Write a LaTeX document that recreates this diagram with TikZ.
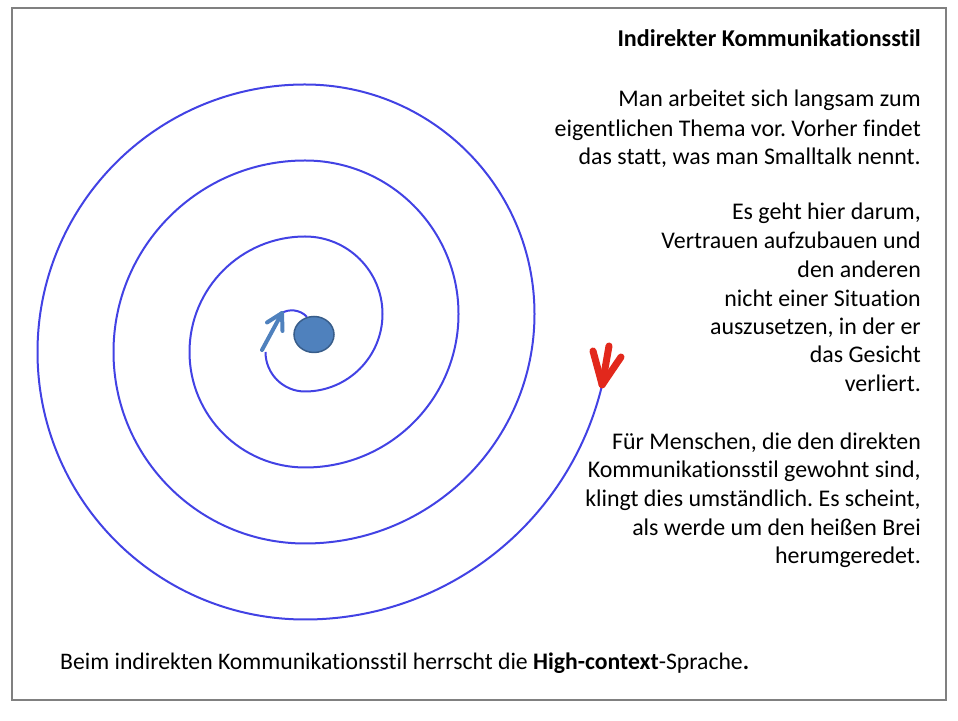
\documentclass[tikz,border=0pt]{standalone}
\usepackage{fontspec}
\setmainfont{Carlito}[Ligatures=NoCommon]
\usetikzlibrary{shapes.geometric}
\definecolor{spiralblue}{RGB}{66,66,228}
\definecolor{dotfill}{HTML}{4F81BD}
\definecolor{dotline}{HTML}{385D8A}
\definecolor{fletchred}{RGB}{226,40,28}
\definecolor{framegray}{HTML}{808080}
\begin{document}
\frenchspacing
\begin{tikzpicture}[x=1pt,y=1pt,
  spiralline/.style={draw=spiralblue, line width=2pt},
  innerarrow/.style={draw=dotfill, line width=4pt, line cap=round, line join=round},
  fletchline/.style={draw=fletchred, line width=7pt, line cap=round},
  framebox/.style={draw=framegray, line width=2.5pt},
  body/.style={anchor=base east, inner sep=0pt, font=\fontsize{23.9}{28}\selectfont},
  titletext/.style={anchor=base east, inner sep=0pt, font=\fontsize{24.1}{28}\selectfont\bfseries},
  foottext/.style={anchor=base west, inner sep=0pt, font=\fontsize{23.7}{28}\selectfont},
  bluedot/.style={ellipse, fill=dotfill, draw=dotline, line width=1.5pt, minimum width=40pt, minimum height=36pt, inner sep=0pt}]
\useasboundingbox (0,0) rectangle (958,720);
\draw[framebox] (12,712) rectangle (946,20);

% spiral
\draw[spiralline] (265.5,368)
  arc[start angle=180,end angle=270,radius=39.5]
  arc[start angle=-90,end angle=90,radius=77.5]
  arc[start angle=90,end angle=270,radius=115.5]
  arc[start angle=-90,end angle=90,radius=153.5]
  arc[start angle=90,end angle=270,radius=191.5]
  arc[start angle=-90,end angle=90,radius=229.5]
  arc[start angle=90,end angle=270,radius=267.5]
  arc[start angle=-90,end angle=-13.4,radius=305.5] coordinate (send);

% inner start
\coordinate (atail) at (262,370);
\coordinate (atip) at (282,407);
\coordinate (abl) at (267,397.5);
\coordinate (abr) at (282.5,389);
\draw[spiralline] (atip) .. controls (288,411) and (300,411) .. (307,403);
\draw[innerarrow] (atail) -- (atip);
\draw[innerarrow] (abl) -- (atip) -- (abr);
\node[bluedot] (dot) at (314,385.5) {};

% red fletching at the outer end
\coordinate (fl) at (593,369);
\coordinate (fm) at (609,374);
\coordinate (fr) at (621,363);
\draw[fletchline] (send) -- (fl);
\draw[fletchline] (send) -- (fm);
\draw[fletchline] (send) -- (fr);

% texts
\node[titletext] (title) at (921,673) {Indirekter Kommunikationsstil};
\node[body] (p1a) at (921,613) {Man arbeitet sich langsam zum};
\node[body] (p1b) at (921,583) {eigentlichen Thema vor. Vorher findet};
\node[body] (p1c) at (921,555) {das statt, was man Smalltalk nennt.};
\node[body] (p2a) at (921,500) {Es geht hier darum,};
\node[body] (p2b) at (921,471) {Vertrauen aufzubauen und};
\node[body] (p2c) at (921,442) {den anderen};
\node[body] (p2d) at (921,413) {nicht einer Situation};
\node[body] (p2e) at (921,385) {auszusetzen, in der er};
\node[body] (p2f) at (921,357) {das Gesicht};
\node[body] (p2g) at (921,328) {verliert.};
\node[body] (p3a) at (921,270) {Für Menschen, die den direkten};
\node[body] (p3b) at (921,242) {Kommunikationsstil gewohnt sind,};
\node[body] (p3c) at (921,213) {klingt dies umständlich. Es scheint,};
\node[body] (p3d) at (921,184) {als werde um den heißen Brei};
\node[body] (p3e) at (921,156) {herumgeredet.};
\node[foottext] (foot) at (60,51) {Beim indirekten Kommunikationsstil herrscht die \textbf{High-context}-Sprache\textbf{.}};
\end{tikzpicture}
\end{document}
